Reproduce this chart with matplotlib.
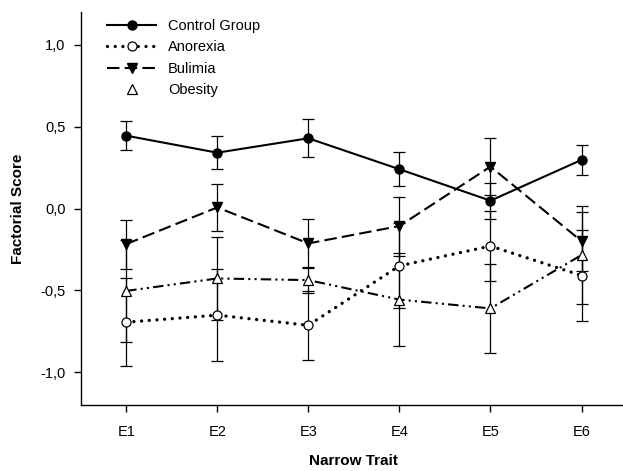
import matplotlib
matplotlib.use('Agg')
import matplotlib.pyplot as plt
from matplotlib.lines import Line2D

plt.rcParams['font.family'] = ['Liberation Sans', 'DejaVu Sans']

categories = ['E1', 'E2', 'E3', 'E4', 'E5', 'E6']
control = [0.445, 0.341, 0.429, 0.240, 0.048, 0.297]
control_err = [0.087, 0.100, 0.116, 0.103, 0.110, 0.090]
anorexia = [-0.694, -0.651, -0.713, -0.350, -0.229, -0.409]
anorexia_err = [0.270, 0.280, 0.210, 0.260, 0.214, 0.280]
bulimia = [-0.217, 0.007, -0.213, -0.107, 0.256, -0.199]
bulimia_err = [0.150, 0.145, 0.148, 0.180, 0.175, 0.180]
obesity = [-0.503, -0.427, -0.437, -0.556, -0.610, -0.284]
obesity_err = [0.310, 0.255, 0.080, 0.285, 0.270, 0.300]
ytick_vals = [-1.0, -0.5, 0.0, 0.5, 1.0]
ytick_labels = ['-1,0', '-0,5', '0,0', '0,5', '1,0']

x = list(range(1, len(categories) + 1))

fig = plt.figure(figsize=(6.23, 4.71), dpi=100)
ax = fig.add_axes([0.1295, 0.140, 0.877, 0.8345])

ekw = dict(ecolor='black', elinewidth=0.9, capsize=4, capthick=0.9)

ax.errorbar(x, control, yerr=control_err, color='black', lw=1.5, ls='-',
            marker='o', ms=6.5, mfc='black', mec='black', **ekw)
l_an = ax.errorbar(x, anorexia, yerr=anorexia_err, color='black', lw=2.4,
                   ls=(0, (0.01, 2.3)), marker='o', ms=6.5, mfc='white',
                   mec='black', mew=0.9, **ekw)
l_an.lines[0].set_dash_capstyle('round')
ax.errorbar(x, bulimia, yerr=bulimia_err, color='black', lw=1.5,
            ls=(0, (6, 2.5)), marker='v', ms=7, mfc='black', mec='black', **ekw)
ax.errorbar(x, obesity, yerr=obesity_err, color='black', lw=1.5,
            ls=(0, (5, 2, 1, 2, 1, 2)), marker='^', ms=7, mfc='white',
            mec='black', mew=0.9, **ekw)

ax.set_xlim(0.5, 6.5)
ax.set_ylim(-1.2, 1.2)
ax.set_xticks(x)
ax.set_xticklabels(categories)
ax.set_yticks(ytick_vals)
ax.set_yticklabels(ytick_labels)
ax.tick_params(direction='out', length=5, width=1, labelsize=10.5, pad=6)
ax.tick_params(axis='x', pad=9)
for s in ['top', 'right']:
    ax.spines[s].set_visible(False)
for s in ['left', 'bottom']:
    ax.spines[s].set_linewidth(1.0)

ax.set_xlabel('Narrow Trait', fontsize=11, fontweight='bold', labelpad=11)
ax.set_ylabel('Factorial Score', fontsize=11, fontweight='bold', labelpad=11)

h_c = Line2D([], [], color='black', lw=1.5, marker='o', ms=6.5, mfc='black')
h_a = Line2D([], [], color='black', lw=2.4, ls=(0, (0.01, 2.3)), marker='o',
             ms=6.5, mfc='white', mew=0.9, dash_capstyle='round')
h_b = Line2D([], [], color='black', lw=1.5, ls=(0, (6, 2.5)), marker='v',
             ms=7, mfc='black')
h_o = Line2D([], [], color='black', lw=0, marker='^', ms=7, mfc='white', mew=0.9)
ax.legend([h_c, h_a, h_b, h_o], ['Control Group', 'Anorexia', 'Bulimia', 'Obesity'],
          loc='upper left', bbox_to_anchor=(0.155, 0.982), bbox_transform=fig.transFigure,
          frameon=False, fontsize=10.5, handlelength=3.4, handletextpad=0.8,
          labelspacing=0.52, borderpad=0.2)

fig.savefig('out.png', dpi=100)
